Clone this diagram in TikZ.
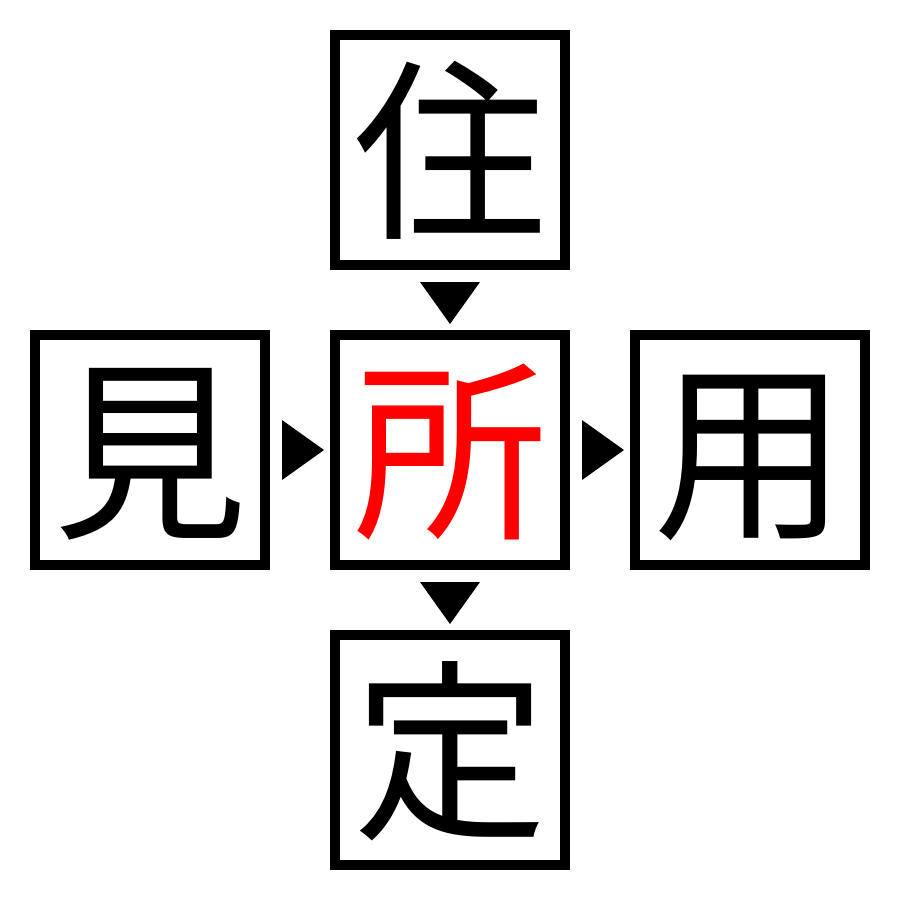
\documentclass[tikz,border=0pt]{standalone}
\usepackage{fontspec}
\newfontfamily\cjk{Noto Sans CJK JP}
\usetikzlibrary{calc}
\begin{document}
\begin{tikzpicture}[x=1pt,y=-1pt,
  kanji/.style={draw=black,line width=10pt,minimum size=230pt,inner sep=0pt,
    text height=171pt,text depth=23pt,font=\cjk\fontsize{194pt}{194pt}\selectfont},
  tri/.style={fill=black}]
\useasboundingbox[fill=white] (0,0) rectangle (900,900);
\node[kanji] (top) at (450,150) {住};
\node[kanji] (left) at (150,450) {見};
\node[kanji,text=red] (mid) at (450,450) {所};
\node[kanji] (right) at (750,450) {用};
\node[kanji] (bot) at (450,750) {定};
\fill[tri] ($(top.south)+(-30,12)$) -- ($(top.south)+(30,12)$) -- ($(mid.north)+(0,-6)$) -- cycle;
\fill[tri] ($(mid.south)+(-30,12)$) -- ($(mid.south)+(30,12)$) -- ($(bot.north)+(0,-6)$) -- cycle;
\fill[tri] ($(left.east)+(12,-30)$) -- ($(left.east)+(12,30)$) -- ($(mid.west)+(-6,0)$) -- cycle;
\fill[tri] ($(mid.east)+(12,-30)$) -- ($(mid.east)+(12,30)$) -- ($(right.west)+(-6,0)$) -- cycle;
\end{tikzpicture}
\end{document}
